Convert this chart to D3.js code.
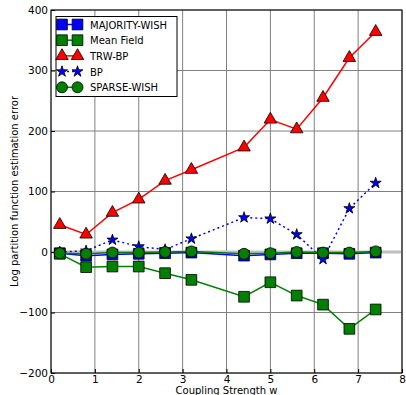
<!DOCTYPE html>
<html>
<head>
<meta charset="utf-8">
<script src="https://cdn.jsdelivr.net/npm/d3@7"></script>
<style>
  body { margin: 0; background: #fff; }
  text { font-family: "DejaVu Sans", sans-serif; }
</style>
</head>
<body>
<div id="chart"></div>
<script>
const couplings = [0.2, 0.8, 1.4, 2.0, 2.6, 3.2, 4.4, 5.0, 5.6, 6.2, 6.8, 7.4];
const majorityWish = [-2, -6, -4, -3, -2, -1, -6, -4, -2, -2, -3, -1];
const meanField = [-3, -25, -24, -24, -35, -46, -74, -50, -72, -87, -127, -95];
const trwBp = [45, 29, 65, 87, 118, 136, 173, 219, 203, 255, 321, 364];
const bp = [0, 2, 20, 9, 4, 22, 57, 55, 29, -12, 72, 114];
const sparseWish = [-2, -3, -1, -1, 0, 1, -3, -2, 0, -1, -1, 1];
const xTicks = [0, 1, 2, 3, 4, 5, 6, 7, 8];
const yTicks = [-200, -100, 0, 100, 200, 300, 400];

const series = [
  { name: 'MAJORITY-WISH', values: majorityWish, color: '#0000ff', symbol: d3.symbolSquare, size: 115, dash: null },
  { name: 'Mean Field', values: meanField, color: '#008000', symbol: d3.symbolSquare, size: 115, dash: null },
  { name: 'TRW-BP', values: trwBp, color: '#ff0000', symbol: d3.symbolTriangle, size: 68, dash: null },
  { name: 'BP', values: bp, color: '#0000ff', symbol: d3.symbolStar, size: 38, dash: '2,3' },
  { name: 'SPARSE-WISH', values: sparseWish, color: '#008000', symbol: d3.symbolCircle, size: 95, dash: null }
];

const margin = { top: 10, left: 51, bottom: 22, right: 4 };
const width = 406 - margin.left - margin.right;
const height = 395 - margin.top - margin.bottom;

const svg = d3.select('#chart')
  .append('svg')
    .attr('width', 406)
    .attr('height', 395)
  .append('g')
    .attr('transform', `translate(${margin.left}, ${margin.top})`);

const xScale = d3.scaleLinear().domain([0, 8]).range([0, width]);
const yScale = d3.scaleLinear().domain([-200, 400]).range([height, 0]);

// grid
svg.append('g').selectAll('line').data(xTicks).enter().append('line')
  .attr('x1', d => xScale(d)).attr('x2', d => xScale(d))
  .attr('y1', 0).attr('y2', height)
  .attr('stroke', '#808080').attr('stroke-width', 1);
svg.append('g').selectAll('line').data(yTicks).enter().append('line')
  .attr('x1', 0).attr('x2', width)
  .attr('y1', d => yScale(d)).attr('y2', d => yScale(d))
  .attr('stroke', '#808080').attr('stroke-width', 1);

// zero line
svg.append('line')
  .attr('x1', 0).attr('x2', width)
  .attr('y1', yScale(0)).attr('y2', yScale(0))
  .attr('stroke', '#c0c0c0').attr('stroke-width', 3);

const fmt = d => d < 0 ? '\u2212' + Math.abs(d) : String(d);

const xAxis = d3.axisBottom(xScale).tickValues(xTicks).tickSize(-4).tickPadding(3).tickFormat(fmt);
const yAxis = d3.axisLeft(yScale).tickValues(yTicks).tickSize(-4).tickPadding(3).tickFormat(fmt);

svg.append('g').attr('transform', `translate(0, ${height})`).call(xAxis)
  .call(g => g.select('.domain').remove())
  .selectAll('text').attr('font-size', 10.5).attr('fill', '#000');
svg.append('g').call(yAxis)
  .call(g => g.select('.domain').remove())
  .selectAll('text').attr('font-size', 10.5).attr('fill', '#000');

const line = d3.line()
  .x((d, i) => xScale(couplings[i]))
  .y(d => yScale(d));

series.forEach(s => {
  svg.append('path')
    .datum(s.values)
    .attr('fill', 'none')
    .attr('stroke', s.color)
    .attr('stroke-width', 1.5)
    .attr('stroke-dasharray', s.dash)
    .attr('d', line);
  svg.append('g').selectAll('path').data(s.values).enter().append('path')
    .attr('d', d3.symbol().type(s.symbol).size(s.size))
    .attr('transform', (d, i) => `translate(${xScale(couplings[i])}, ${yScale(d)})`)
    .attr('fill', s.color)
    .attr('stroke', '#000')
    .attr('stroke-width', 0.8);
});

// frame
svg.append('rect')
  .attr('width', width).attr('height', height)
  .attr('fill', 'none').attr('stroke', '#000').attr('stroke-width', 1);

// legend
const legend = svg.append('g').attr('transform', 'translate(5, 6.5)');
legend.append('rect')
  .attr('width', 121).attr('height', 80)
  .attr('fill', '#fff').attr('stroke', '#000').attr('stroke-width', 1);
series.forEach((s, i) => {
  const y = 8 + i * 15.7;
  const g = legend.append('g').attr('transform', `translate(0, ${y})`);
  g.append('line')
    .attr('x1', 6).attr('x2', 22)
    .attr('stroke', s.color).attr('stroke-width', 1.5)
    .attr('stroke-dasharray', s.dash);
  [6, 21.5].forEach(x => {
    g.append('path')
      .attr('d', d3.symbol().type(s.symbol).size(s.size))
      .attr('transform', `translate(${x}, 0)`)
      .attr('fill', s.color).attr('stroke', '#000').attr('stroke-width', 0.8);
  });
  g.append('text')
    .attr('x', 34).attr('y', 4)
    .attr('font-size', 10)
    .text(s.name);
});

// axis labels
svg.append('text')
  .attr('x', width / 2).attr('y', height + 20.5)
  .attr('text-anchor', 'middle').attr('font-size', 10)
  .text('Coupling Strength w');
svg.append('text')
  .attr('transform', `translate(${-33}, ${height / 2}) rotate(-90)`)
  .attr('text-anchor', 'middle').attr('font-size', 10)
  .text('Log partition function estimation error');
</script>
</body>
</html>
